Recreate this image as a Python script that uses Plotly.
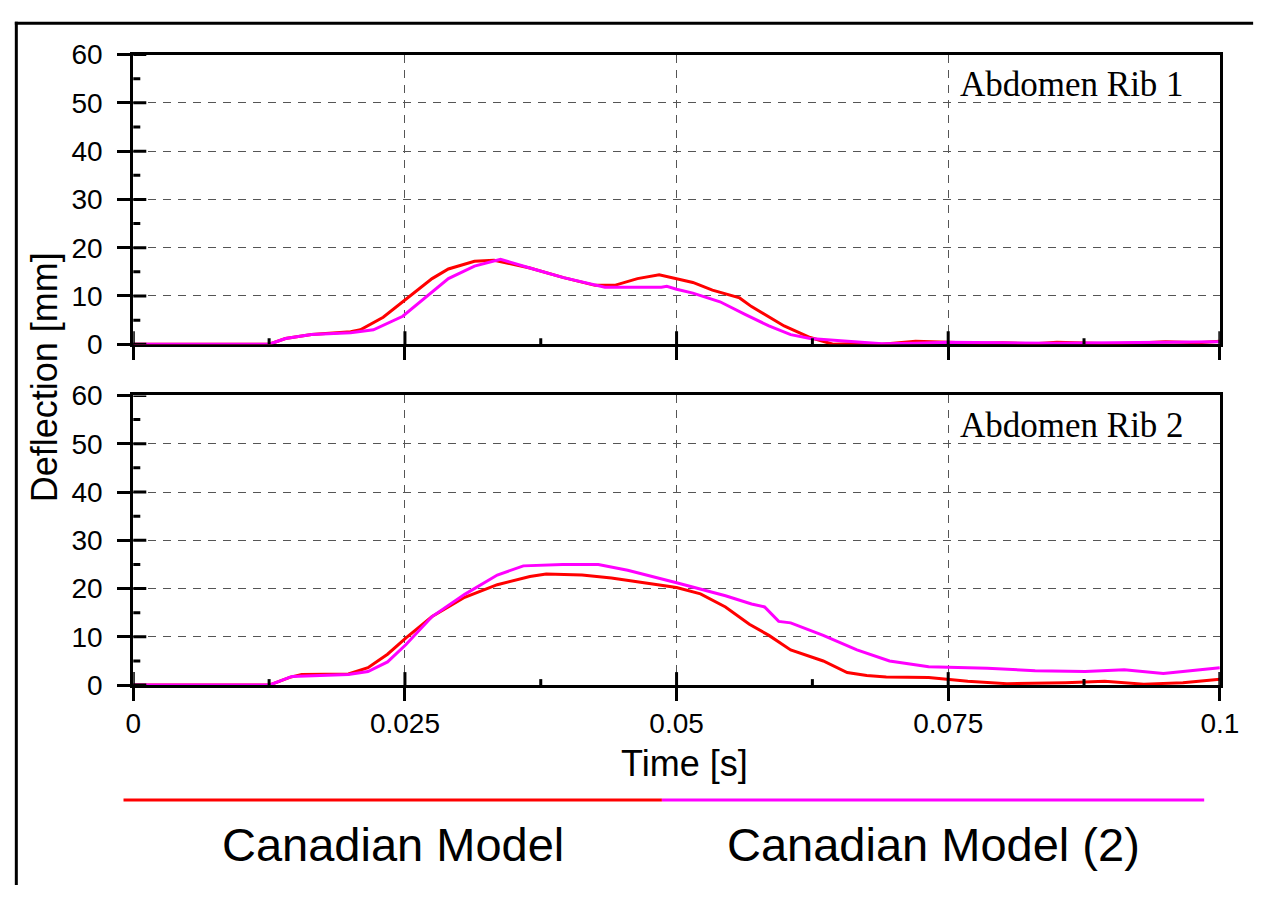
import plotly.graph_objects as go

W, H = 1278, 901

# ---------------- data ----------------
time_ticks = [0, 0.025, 0.05, 0.075, 0.1]
time_tick_labels = ["0", "0.025", "0.05", "0.075", "0.1"]
time_minor = [0.0125, 0.0375, 0.0625, 0.0875]
defl_ticks = [0, 10, 20, 30, 40, 50, 60]
defl_minor = [5, 15, 25, 35, 45, 55]

series_names = ["Canadian Model", "Canadian Model (2)"]
series_colors = ["#FF0000", "#FF00FF"]
panel_labels = ["Abdomen Rib 1", "Abdomen Rib 2"]

# Abdomen Rib 1 - Canadian Model
rib1_red_t = [0, 0.0125, 0.0140, 0.0164, 0.0200, 0.0209, 0.0230, 0.0249, 0.0275, 0.0290,
              0.0314, 0.0332, 0.0365, 0.0396, 0.0425, 0.0443, 0.0464, 0.0484, 0.0500,
              0.0515, 0.0533, 0.0558, 0.0569, 0.0599, 0.0623, 0.0644, 0.0660, 0.0689,
              0.0720, 0.0750, 0.0780, 0.0800, 0.0830, 0.0850, 0.0880, 0.0900, 0.0930,
              0.0950, 0.0980, 0.1000]
rib1_red_v = [0, 0, 1.2, 2.0, 2.6, 3.0, 5.6, 9.0, 13.6, 15.6,
              17.2, 17.4, 15.8, 13.8, 12.2, 12.2, 13.6, 14.4, 13.6,
              12.8, 11.2, 9.6, 7.8, 3.8, 1.4, 0.0, 0.1, 0.0,
              0.6, 0.4, 0.2, 0.3, 0.1, 0.4, 0.2, 0.1, 0.3,
              0.5, 0.3, 0.6]

# Abdomen Rib 1 - Canadian Model (2)
rib1_mag_t = [0, 0.0125, 0.0140, 0.0164, 0.0200, 0.0221, 0.0248, 0.0275, 0.0290, 0.0314,
              0.0338, 0.0365, 0.0396, 0.0434, 0.0486, 0.0491, 0.0500, 0.0515, 0.0540,
              0.0563, 0.0585, 0.0605, 0.0623, 0.0648, 0.0675, 0.0689, 0.0720, 0.0750,
              0.0800, 0.0850, 0.0900, 0.0950, 0.1000]
rib1_mag_v = [0, 0, 1.2, 2.0, 2.4, 3.0, 5.8, 10.8, 13.6, 16.2,
              17.6, 15.8, 13.8, 11.8, 11.8, 12.0, 11.4, 10.6, 8.8,
              6.2, 3.8, 2.0, 1.2, 0.8, 0.4, 0.1, 0.2, 0.4,
              0.3, 0.2, 0.3, 0.4, 0.5]

# Abdomen Rib 2 - Canadian Model
rib2_red_t = [0, 0.0125, 0.0144, 0.0155, 0.0198, 0.0216, 0.0234, 0.0251, 0.0275, 0.0305,
              0.0335, 0.0365, 0.0380, 0.0413, 0.0440, 0.0470, 0.0500, 0.0522, 0.0545,
              0.0567, 0.0585, 0.0605, 0.0635, 0.0657, 0.0675, 0.0693, 0.0732, 0.0768,
              0.0804, 0.0858, 0.0894, 0.0930, 0.0966, 0.1000]
rib2_red_v = [0, 0, 1.6, 2.2, 2.3, 3.6, 6.4, 9.8, 14.2, 18.2,
              20.8, 22.5, 23.0, 22.8, 22.2, 21.2, 20.2, 18.9, 16.2,
              12.6, 10.3, 7.3, 5.0, 2.6, 2.0, 1.7, 1.6, 0.8,
              0.3, 0.5, 0.8, 0.2, 0.5, 1.2]

# Abdomen Rib 2 - Canadian Model (2)
rib2_mag_t = [0, 0.0125, 0.0146, 0.0198, 0.0216, 0.0234, 0.0251, 0.0275, 0.0305, 0.0335,
              0.0359, 0.0395, 0.0428, 0.0455, 0.0500, 0.0545, 0.0569, 0.0581, 0.0594,
              0.0605, 0.0635, 0.0666, 0.0696, 0.0732, 0.0786, 0.0830, 0.0876, 0.0912,
              0.0948, 0.1000]
rib2_mag_v = [0, 0, 1.8, 2.2, 2.8, 4.8, 8.4, 14.2, 18.8, 22.8,
              24.7, 25.0, 25.0, 23.8, 21.2, 18.5, 16.8, 16.2, 13.2,
              12.9, 10.3, 7.3, 5.0, 3.8, 3.5, 3.0, 2.8, 3.2,
              2.4, 3.6]

panels = [
    [(rib1_red_t, rib1_red_v), (rib1_mag_t, rib1_mag_v)],
    [(rib2_red_t, rib2_red_v), (rib2_mag_t, rib2_mag_v)],
]

# ---------------- layout geometry (pixels) ----------------
PL, PR = 128, 1238
PANEL_TOPS = [41, 394]
PANEL_BOTS = [341, 694]


def px_x(p):
    return p / W


def px_y(p):
    return 1 - p / H


FONT = "Arial, Liberation Sans, sans-serif"
SERIF = "Times New Roman, Liberation Serif, serif"
GRID_DASH = "8px,7px"

fig = go.Figure()

axis_names = [("x", "y"), ("x2", "y2")]
for pi, (xa, ya) in enumerate(axis_names):
    for si, (t, v) in enumerate(panels[pi]):
        fig.add_trace(go.Scatter(
            x=t, y=v, mode="lines", xaxis=xa, yaxis=ya,
            line=dict(color=series_colors[si], width=3),
            name=series_names[si], showlegend=False, hoverinfo="skip",
        ))


def xaxis_def(pi, show_labels):
    return dict(
        domain=[px_x(PL), px_x(PR)], range=[0, 0.1],
        anchor=axis_names[pi][1],
        showline=True, linewidth=3, linecolor="black", mirror=True,
        showgrid=True, gridcolor="#555555", gridwidth=1.4, griddash=GRID_DASH,
        zeroline=False, layer="below traces",
        tickmode="array", tickvals=time_ticks, ticktext=time_tick_labels,
        showticklabels=show_labels,
        ticks="outside", ticklen=13, tickwidth=3, tickcolor="black",
        tickfont=dict(family=FONT, size=28, color="black"),
        ticklabelstandoff=-2,
        fixedrange=True,
    )


def yaxis_def(pi):
    return dict(
        domain=[px_y(PANEL_BOTS[pi]), px_y(PANEL_TOPS[pi])], range=[0, 60],
        anchor=axis_names[pi][0],
        showline=True, linewidth=3, linecolor="black", mirror=True,
        showgrid=True, gridcolor="#555555", gridwidth=1.4, griddash=GRID_DASH,
        zeroline=False, layer="below traces",
        tickmode="array", tickvals=defl_ticks,
        ticktext=[str(v) for v in defl_ticks],
        ticks="outside", ticklen=13, tickwidth=3, tickcolor="black",
        tickfont=dict(family=FONT, size=28, color="black"),
        ticklabelstandoff=9,
        fixedrange=True,
    )


shapes = []
for pi, (xa, ya) in enumerate(axis_names):
    # crossing ticks on the time axis
    for tv in time_ticks:
        shapes.append(dict(type="line", xref=xa, yref=ya, ysizemode="pixel", yanchor=0,
                           x0=tv, x1=tv, y0=-13, y1=13, layer="above",
                           line=dict(color="black", width=3)))
    for tv in time_minor:
        shapes.append(dict(type="line", xref=xa, yref=ya, ysizemode="pixel", yanchor=0,
                           x0=tv, x1=tv, y0=-6, y1=6, layer="above",
                           line=dict(color="black", width=3)))
    # crossing ticks on the deflection axis
    for dv in defl_ticks:
        shapes.append(dict(type="line", xref=xa, yref=ya, xsizemode="pixel", xanchor=0,
                           x0=-13, x1=13, y0=dv, y1=dv, layer="above",
                           line=dict(color="black", width=3)))
    for dv in defl_minor:
        shapes.append(dict(type="line", xref=xa, yref=ya, xsizemode="pixel", xanchor=0,
                           x0=-7, x1=7, y0=dv, y1=dv, layer="above",
                           line=dict(color="black", width=3)))

# outer frame (top and left)
shapes.append(dict(type="line", xref="paper", yref="paper",
                   x0=px_x(7), x1=px_x(1272), y0=px_y(8.5), y1=px_y(8.5),
                   line=dict(color="black", width=3)))
shapes.append(dict(type="line", xref="paper", yref="paper",
                   x0=px_x(8.5), x1=px_x(8.5), y0=0, y1=px_y(7),
                   line=dict(color="black", width=3)))

# legend lines
LEG_Y = 813
leg_spans = [(118, 668), (668, 1222)]
for si, (a, b) in enumerate(leg_spans):
    shapes.append(dict(type="line", xref="paper", yref="paper",
                       x0=px_x(a), x1=px_x(b), y0=px_y(LEG_Y), y1=px_y(LEG_Y),
                       line=dict(color=series_colors[si], width=3)))

annotations = []
# panel labels
for pi, top in enumerate(PANEL_TOPS):
    annotations.append(dict(
        text=panel_labels[pi], xref="paper", yref="paper",
        x=px_x(970), y=px_y(top + 31), xanchor="left", yanchor="middle",
        showarrow=False, font=dict(family=SERIF, size=35, color="black")))

# axis titles
annotations.append(dict(text="Time [s]", xref="paper", yref="paper",
                        x=px_x(691), y=px_y(775), xanchor="center", yanchor="middle",
                        showarrow=False, font=dict(family=FONT, size=36, color="black")))
annotations.append(dict(text="Deflection [mm]", xref="paper", yref="paper",
                        x=px_x(37), y=px_y(375), xanchor="center", yanchor="middle",
                        textangle=-90,
                        showarrow=False, font=dict(family=FONT, size=36, color="black")))

# legend texts
for si, (a, b) in enumerate(leg_spans):
    annotations.append(dict(text=series_names[si], xref="paper", yref="paper",
                            x=px_x((a + b) / 2), y=px_y(859), xanchor="center", yanchor="middle",
                            showarrow=False, font=dict(family=FONT, size=47, color="black")))

fig.update_layout(
    width=W, height=H,
    margin=dict(l=0, r=0, t=0, b=0),
    paper_bgcolor="white", plot_bgcolor="white",
    xaxis=xaxis_def(0, False),
    yaxis=yaxis_def(0),
    xaxis2=xaxis_def(1, True),
    yaxis2=yaxis_def(1),
    shapes=shapes,
    annotations=annotations,
    showlegend=False,
)

fig.write_html("out.html")
